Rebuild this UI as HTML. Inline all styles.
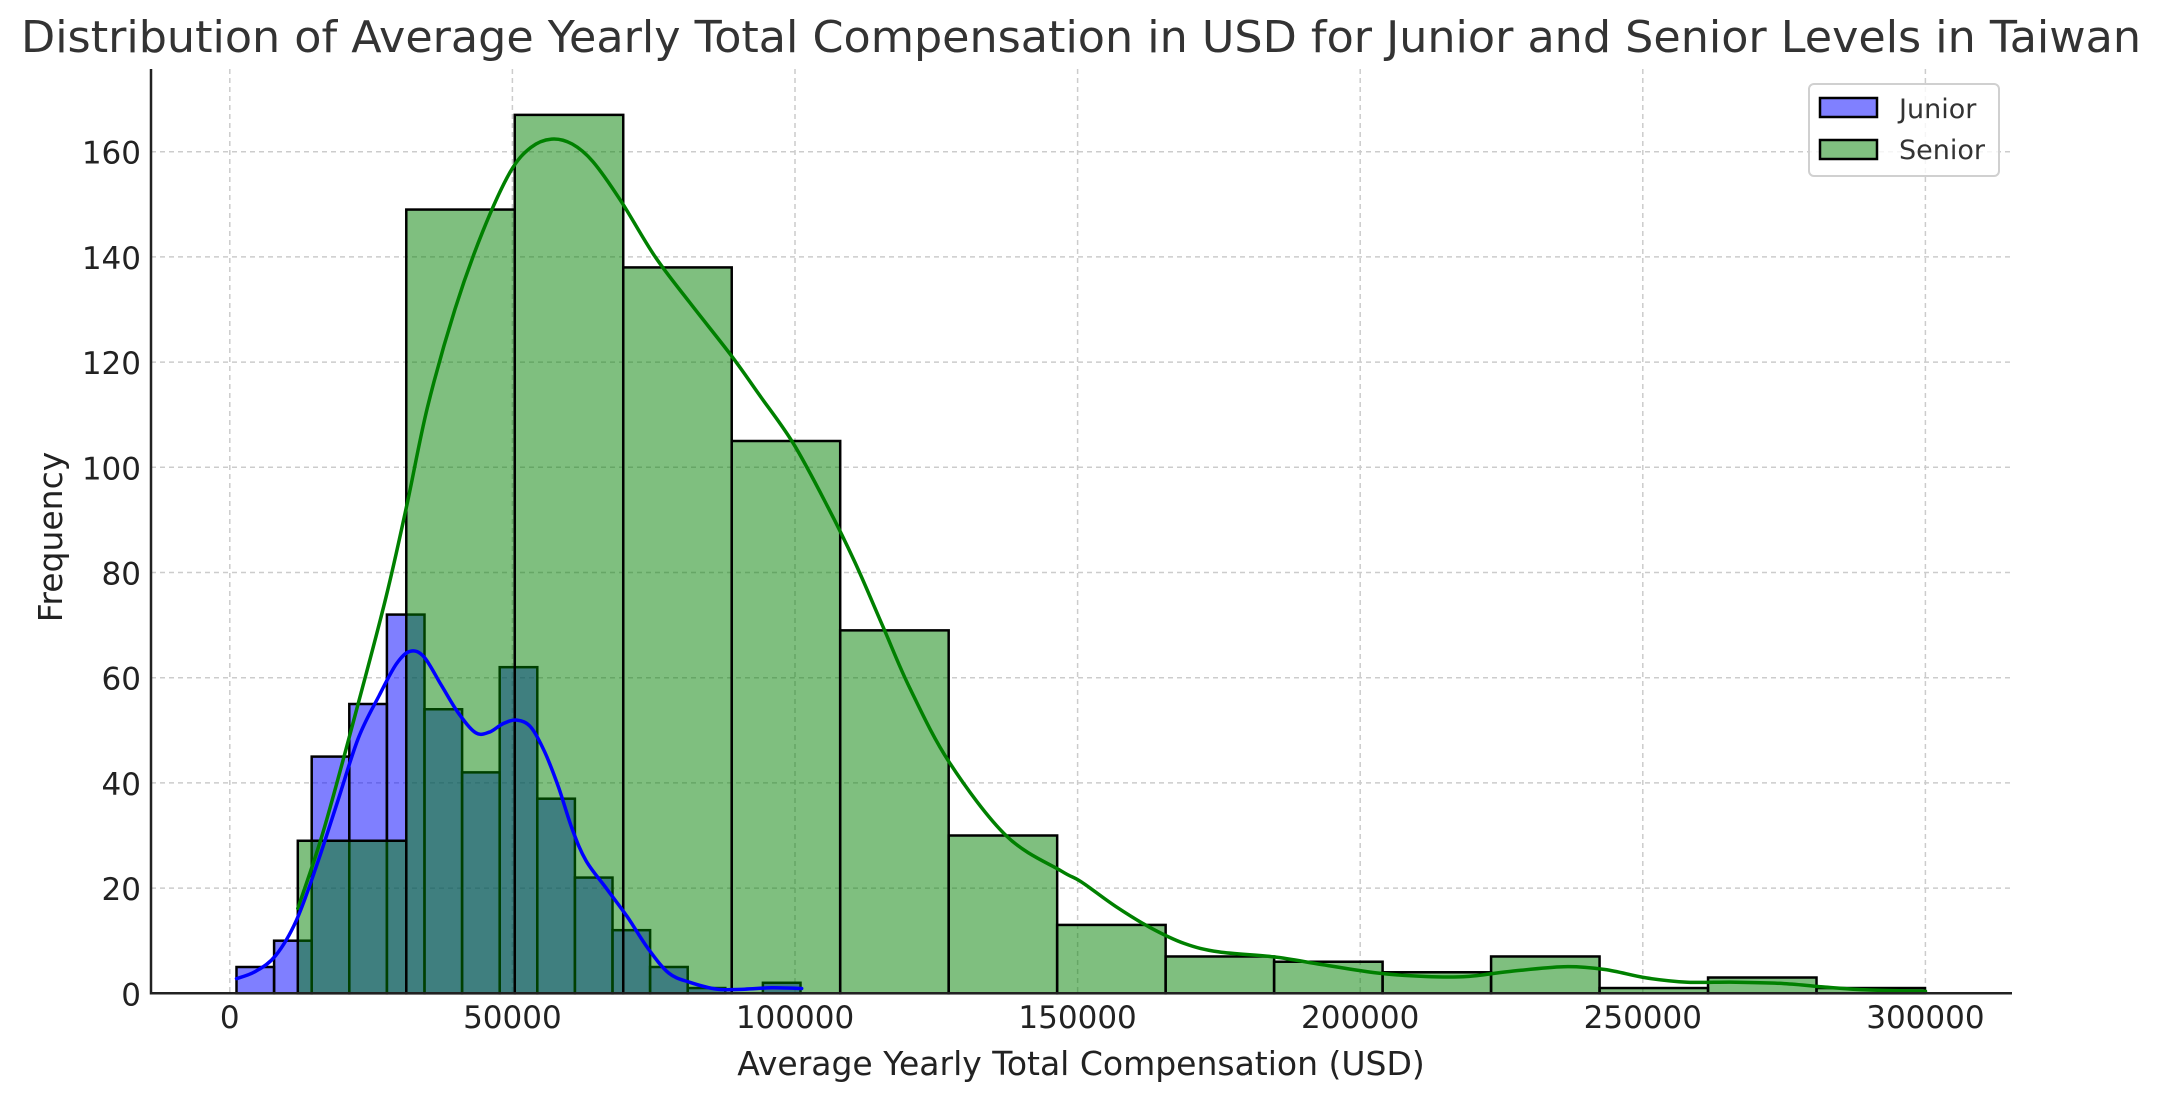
<!DOCTYPE html>
<html><head><meta charset="utf-8"><style>
html,body{margin:0;padding:0;background:#fff;}
svg{display:block;font-family:"DejaVu Sans","Liberation Sans",sans-serif;}
</style></head><body>
<svg id="s" width="2162" height="1101" xmlns="http://www.w3.org/2000/svg">
<text x="1081" y="52" text-anchor="middle" font-size="44" fill="#333" textLength="2120" lengthAdjust="spacingAndGlyphs">Distribution of Average Yearly Total Compensation in USD for Junior and Senior Levels in Taiwan</text>
<g id="grid" stroke="#cccccc" stroke-width="1.5" stroke-dasharray="5,4"></g>
<g id="bars"></g>
<g id="kde" fill="none" stroke-width="3.5" stroke-linejoin="round" stroke-linecap="round"></g>
<line x1="151" y1="69" x2="151" y2="994.5" stroke="#222" stroke-width="2.5"/>
<line x1="150" y1="993.3" x2="2012" y2="993.3" stroke="#222" stroke-width="2.5"/>
<g id="ticks" font-size="31" fill="#222"></g>
<text x="1081" y="1075" text-anchor="middle" font-size="33" fill="#222">Average Yearly Total Compensation (USD)</text>
<text transform="translate(62,537) rotate(-90)" text-anchor="middle" font-size="33" fill="#222">Frequency</text>
<rect x="1809" y="84" width="190" height="92" rx="5" fill="#fff" fill-opacity="0.8" stroke="#d0d0d0" stroke-width="2"/>
<rect x="1820" y="98" width="57" height="19" fill="#8080ff" stroke="#000" stroke-width="2.5"/>
<rect x="1820" y="140" width="57" height="19" fill="#80c080" stroke="#000" stroke-width="2.5"/>
<text x="1899" y="118" font-size="27" fill="#333">Junior</text>
<text x="1899" y="159" font-size="27" fill="#333">Senior</text>
</svg>
<script>
var NS="http://www.w3.org/2000/svg";
function el(p,t,a,txt){var e=document.createElementNS(NS,t);for(var k in a)e.setAttribute(k,a[k]);if(txt!=null)e.textContent=txt;document.getElementById(p).appendChild(e);return e;}
var X0=229.8,XS=282.6/50000,Y0=993.3,YS=(993.3-151.7)/160;
function yv(v){return Y0-v*YS;}
for(var i=0;i<=6;i++){var x=X0+i*50000*XS;el("grid","line",{x1:x,y1:69,x2:x,y2:993});
 el("ticks","text",{x:x,y:1028,"text-anchor":"middle"},String(i*50000));}
for(var j=0;j<=8;j++){var y=yv(j*20);if(j>0)el("grid","line",{x1:151,y1:y,x2:2012,y2:y});
 el("ticks","text",{x:141,y:y+12,"text-anchor":"end"},String(j*20));}
var jh=[5,10,45,55,72,54,42,62,37,22,12,5,1,0,2];
for(var i=0;i<jh.length;i++){if(!jh[i])continue;var x=236.5+i*37.6;
 el("bars","rect",{x:x,y:yv(jh[i]),width:37.6,height:jh[i]*YS,fill:"#0000ff","fill-opacity":0.5,stroke:"#000","stroke-width":2.5});}
var sh=[29,149,167,138,105,69,30,13,7,6,4,7,1,3,1];
for(var i=0;i<sh.length;i++){var x=297.8+i*108.48;
 el("bars","rect",{x:x,y:yv(sh[i]),width:108.48,height:sh[i]*YS,fill:"#008000","fill-opacity":0.5,stroke:"#000","stroke-width":2.5});}
var fx=1.4506,fy=1.4234;
function smooth(pts){var P=pts.map(function(p){return [p[0]/fx+(p[2]||0),p[1]/fy];});
 var d="M"+P[0][0].toFixed(1)+","+P[0][1].toFixed(1);
 for(var i=0;i<P.length-1;i++){var p0=P[i-1]||P[i],p1=P[i],p2=P[i+1],p3=P[i+2]||p2;
  var c1=[p1[0]+(p2[0]-p0[0])/6,p1[1]+(p2[1]-p0[1])/6],c2=[p2[0]-(p3[0]-p1[0])/6,p2[1]-(p3[1]-p1[1])/6];
  d+="C"+c1[0].toFixed(1)+","+c1[1].toFixed(1)+" "+c2[0].toFixed(1)+","+c2[1].toFixed(1)+" "+p2[0].toFixed(1)+","+p2[1].toFixed(1);}
 return d;}
var g=[[432,1293],[470,1180],[520,1000],[560,850],[590,720],[620,580],[660,440],[700,330],[740,245],[770,210],[800,198],[830,205],[860,230],[900,285],[950,365],[1000,430],[1060,505],[1100,560],[1150,630],[1200,720],[1240,800],[1280,890],[1320,980],[1377,1085],[1460,1190],[1540,1240]];
var g2=[[0,1255],[50,1290],[100,1320],[150,1343],[200,1355],[280,1362],[350,1373],[430,1385],[500,1390],[560,1390],[620,1383],[700,1376],[760,1380],[820,1392],[880,1398],[950,1398],[1020,1400],[1080,1405],[1140,1409],[1225,1411]];
g2.forEach(function(p){g.push([p[0],p[1],1081]);});
el("kde","path",{d:smooth(g),stroke:"#008000"});
var b=[[343,1393],[370,1383],[400,1360],[430,1310],[460,1230],[490,1140],[520,1050],[550,990],[575,945],[595,927],[615,935],[640,975],[665,1015],[690,1043],[710,1042],[730,1030],[750,1025],[770,1035],[790,1070],[810,1120],[830,1180],[850,1225],[880,1265],[910,1305],[940,1350],[970,1385],[1000,1398],[1040,1408],[1080,1408],[1120,1406],[1163,1407]];
el("kde","path",{d:smooth(b),stroke:"#0000ff"});
</script>
</body></html>
